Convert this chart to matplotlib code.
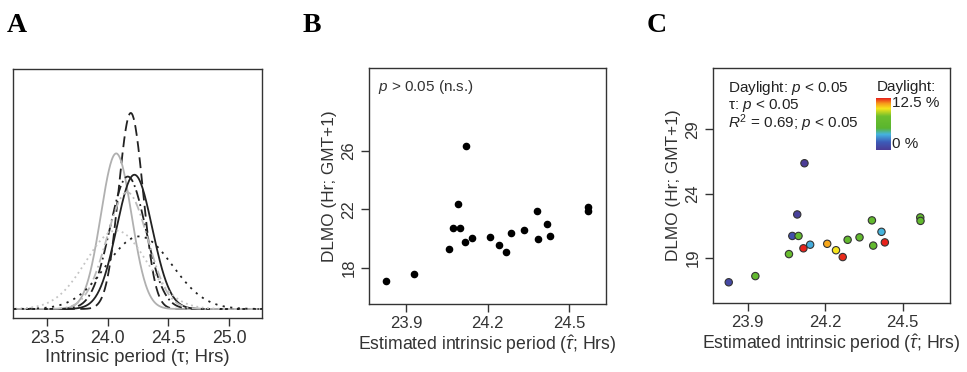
import numpy as np
import matplotlib
matplotlib.use('Agg')
import matplotlib.pyplot as plt
from matplotlib.colors import LinearSegmentedColormap

plt.rcParams['font.family'] = ['Liberation Sans', 'DejaVu Sans']
plt.rcParams['mathtext.fontset'] = 'custom'
plt.rcParams['mathtext.rm'] = 'Liberation Sans'
plt.rcParams['mathtext.it'] = 'Liberation Sans:italic'

# panel A: fitted normal densities of intrinsic period
curve_mu = [24.19, 24.07, 24.22, 24.165, 24.16, 24.07, 24.26]
curve_sd = [0.100, 0.126, 0.146, 0.148, 0.168, 0.250, 0.270]
curve_col = ['#222222', '#B0B0B0', '#222222', '#222222', '#BBBBBB', '#C4C4C4', '#222222']
curve_ls = [(0, (6, 3)), '-', '-', (0, (6, 2, 1, 2)), (0, (5, 2, 1, 2)), (0, (1, 2)), (0, (1.2, 3))]

# panels B and C: estimated tau vs DLMO, daylight exposure
tau = [23.827, 23.930, 24.060, 24.073, 24.097, 24.092, 24.120, 24.116, 24.142, 24.208,
       24.242, 24.268, 24.287, 24.333, 24.381, 24.386, 24.418, 24.431, 24.568, 24.569]
dlmo = [17.11, 17.59, 19.30, 20.71, 20.71, 22.38, 26.36, 19.75, 20.03, 20.10,
        19.60, 19.07, 20.41, 20.60, 21.92, 19.96, 21.03, 20.21, 22.15, 21.88]
daylight = [0.8, 6.5, 7.5, 1.2, 6.5, 0.3, 0.0, 12.5, 3.6, 11.0,
            10.0, 12.4, 6.5, 6.5, 6.5, 6.5, 3.8, 12.5, 6.5, 6.5]

cmap = LinearSegmentedColormap.from_list('daylight', [
    (0.0, '#4B3C96'), (0.15, '#3D5BB8'), (0.3, '#45B4E0'), (0.42, '#5AB52E'),
    (0.65, '#6CBF2E'), (0.8, '#F7E51B'), (0.9, '#F79A1B'), (1.0, '#E8221B')])

fig = plt.figure(figsize=(9.67, 3.72), dpi=100)
axA = fig.add_axes([0.0134, 0.1452, 0.2575, 0.6694])
axB = fig.add_axes([0.3816, 0.1828, 0.2451, 0.6344])
axC = fig.add_axes([0.7373, 0.1855, 0.2451, 0.6317])

for ax in (axA, axB, axC):
    for s in ax.spines.values():
        s.set_color('#333333')
        s.set_linewidth(1.0)
    ax.tick_params(direction='out', length=6, width=1, color='#333333',
                   labelsize=12, labelcolor='#333333', pad=3)

# A
xs = np.linspace(23.1, 25.4, 600)
for m, s, c, ls in zip(curve_mu, curve_sd, curve_col, curve_ls):
    dens = np.exp(-0.5 * ((xs - m) / s) ** 2) / (s * np.sqrt(2 * np.pi))
    axA.plot(xs, dens, color=c, ls=ls, lw=1.3)
axA.set_xlim(23.22, 25.27)
axA.set_ylim(-0.183, 4.885)
axA.set_yticks([])
axA.set_xticks([23.5, 24.0, 24.5, 25.0])
axA.set_xticklabels(['23.5', '24.0', '24.5', '25.0'])
axA.tick_params(labelsize=12.8)
axA.set_xlabel('Intrinsic period (τ; Hrs)', fontsize=13.4, color='#333333', labelpad=1)

# B
axB.scatter(tau, dlmo, s=20, color='black', zorder=3)
axB.set_xlim(23.764, 24.636)
axB.set_ylim(15.53, 31.68)
axB.set_xticks([23.9, 24.2, 24.5])
axB.set_yticks([18, 22, 26])
axB.set_yticklabels(['18', '22', '26'], rotation=90, va='center')
axB.set_xlabel(r'Estimated intrinsic period ($\hat{\tau}$; Hrs)', fontsize=12.7, color='#333333', labelpad=1)
axB.set_ylabel('DLMO (Hr; GMT+1)', fontsize=12.4, color='#333333', labelpad=3)
axB.text(0.04, 0.92, r'$p$ > 0.05 (n.s.)', transform=axB.transAxes, fontsize=11,
         color='#333333', va='center')

# C
axC.scatter(tau, dlmo, s=28, c=daylight, cmap=cmap, vmin=0, vmax=12.5,
            edgecolors='#333333', linewidths=0.8, zorder=3)
axC.set_xlim(23.766, 24.683)
axC.set_ylim(15.5, 33.76)
axC.set_xticks([23.9, 24.2, 24.5])
axC.set_yticks([19, 24, 29])
axC.set_yticklabels(['19', '24', '29'], rotation=90, va='center')
axC.set_xlabel(r'Estimated intrinsic period ($\hat{\tau}$; Hrs)', fontsize=12.7, color='#333333', labelpad=1)
axC.set_ylabel('DLMO (Hr; GMT+1)', fontsize=12.4, color='#333333', labelpad=3)
stats = [r'Daylight: $p$ < 0.05', r'τ: $p$ < 0.05', r'$R^2$ = 0.69; $p$ < 0.05']
for i, t in enumerate(stats):
    axC.text(0.065, 0.915 - i * 0.075, t, transform=axC.transAxes, fontsize=11,
             color='#222222', va='center')

cax = fig.add_axes([876 / 967, 1 - 150 / 372, 15 / 967, 52 / 372])
grad = np.linspace(0, 12.5, 200).reshape(-1, 1)
cax.imshow(grad, aspect='auto', cmap=cmap, origin='lower', extent=[0, 1, 0, 12.5])
cax.set_axis_off()
fig.text(877 / 967, 1 - 87 / 372, 'Daylight:', fontsize=11, color='#222222', va='center')
fig.text(892 / 967, 1 - 103 / 372, '12.5 %', fontsize=11, color='#222222', va='center')
fig.text(892 / 967, 1 - 144 / 372, '0 %', fontsize=11, color='#222222', va='center')

# panel letters
for x, lab in [(7, 'A'), (303, 'B'), (647, 'C')]:
    fig.text(x / 967, 1 - 25 / 372, lab, fontsize=20, fontweight='bold',
             family='Liberation Serif', va='center')

fig.savefig('out.png', dpi=100)
